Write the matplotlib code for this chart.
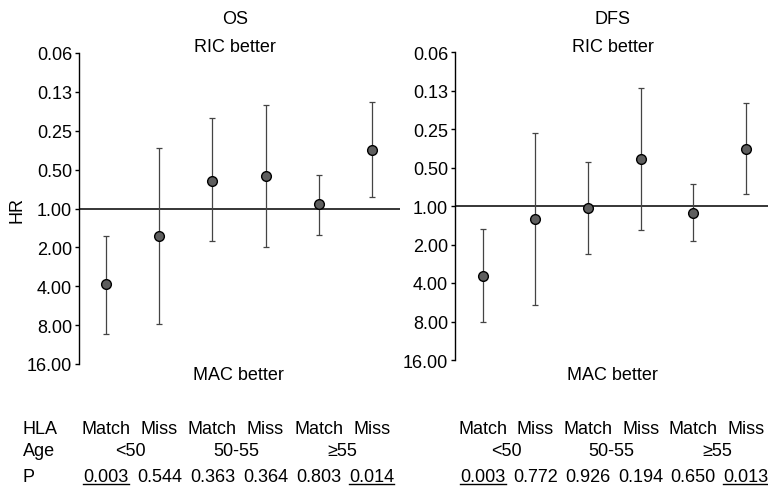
import matplotlib
matplotlib.use("Agg")
import matplotlib.pyplot as plt
import matplotlib.transforms as mtransforms
from matplotlib.lines import Line2D
from matplotlib.ticker import FixedLocator, FixedFormatter, NullLocator

plt.rcParams['font.family'] = ['Liberation Sans', 'DejaVu Sans']

# ---- data ----
hla = ["Match", "Miss", "Match", "Miss", "Match", "Miss"]
age_groups = ["<50", "50-55", "\u226555"]
tick_vals = [0.0625, 0.125, 0.25, 0.5, 1, 2, 4, 8, 16]
tick_labels = ["0.06", "0.13", "0.25", "0.50", "1.00", "2.00", "4.00", "8.00", "16.00"]

os_hr = [3.86, 1.62, 0.61, 0.56, 0.93, 0.35]
os_lo = [1.62, 0.34, 0.20, 0.157, 0.55, 0.15]
os_hi = [9.3, 7.85, 1.79, 1.98, 1.61, 0.81]
os_p = ["0.003", "0.544", "0.363", "0.364", "0.803", "0.014"]
os_sig = [True, False, False, False, False, True]

dfs_hr = [3.55, 1.26, 1.04, 0.43, 1.13, 0.36]
dfs_lo = [1.51, 0.27, 0.455, 0.12, 0.67, 0.157]
dfs_hi = [8.1, 5.9, 2.37, 1.53, 1.89, 0.81]
dfs_p = ["0.003", "0.772", "0.926", "0.194", "0.650", "0.013"]
dfs_sig = [True, False, False, False, False, True]

W, H = 768, 489
fig = plt.figure(figsize=(W / 100, H / 100), dpi=100)
fs = 13


def fx(px):
    return px / W


def fy(py):
    return 1 - py / H


def make_panel(left, right, top, bottom, xlim, hr, lo, hi):
    ax = fig.add_axes([fx(left), fy(bottom), fx(right - left), (bottom - top) / H])
    ax.set_yscale('log', base=2)
    ax.set_ylim(16, 0.0625)
    ax.set_xlim(*xlim)
    x = list(range(len(hr)))
    yerr = [[h - l for h, l in zip(hr, lo)], [u - h for h, u in zip(hr, hi)]]
    ax.axhline(1.0, color='black', lw=1.1, zorder=1)
    ax.errorbar(x, hr, yerr=yerr, fmt='none', ecolor='#444444', elinewidth=0.9,
                capsize=2, capthick=0.9, zorder=2)
    ax.plot(x, hr, 'o', ms=7, mfc='#5e5e5e', mec='black', mew=1.0, zorder=3)
    ax.yaxis.set_major_locator(FixedLocator(tick_vals))
    ax.yaxis.set_major_formatter(FixedFormatter(tick_labels))
    ax.yaxis.set_minor_locator(NullLocator())
    ax.xaxis.set_major_locator(NullLocator())
    ax.xaxis.set_minor_locator(NullLocator())
    for s in ['top', 'right', 'bottom']:
        ax.spines[s].set_visible(False)
    ax.spines['left'].set_linewidth(1.0)
    ax.tick_params(axis='y', length=3, width=1.0, pad=2, labelsize=fs)
    ax.patch.set_alpha(0)
    return ax


ax1 = make_panel(79, 400, 54, 365, (-0.51, 5.53), os_hr, os_lo, os_hi)
ax2 = make_panel(455, 768, 53, 361, (-0.53, 5.42), dfs_hr, dfs_lo, dfs_hi)

# titles and annotations
fig.text(fx(235), fy(20), "OS", ha='center', va='center', fontsize=fs)
fig.text(fx(235), fy(48), "RIC better", ha='center', va='center', fontsize=fs)
fig.text(fx(238), fy(376), "MAC better", ha='center', va='center', fontsize=fs)
fig.text(fx(613), fy(20), "DFS", ha='center', va='center', fontsize=fs)
fig.text(fx(613), fy(48), "RIC better", ha='center', va='center', fontsize=fs)
fig.text(fx(612), fy(376), "MAC better", ha='center', va='center', fontsize=fs)
fig.text(fx(17), fy(210), "HR", ha='center', va='center', rotation=90, fontsize=fs)

# table rows
fig.text(fx(23), fy(430), "HLA", ha='left', va='center', fontsize=fs)
fig.text(fx(23), fy(452), "Age", ha='left', va='center', fontsize=fs)
fig.text(fx(23), fy(478), "P", ha='left', va='center', fontsize=fs)

underlined = []
for ax, pvals, sig in [(ax1, os_p, os_sig), (ax2, dfs_p, dfs_sig)]:
    tr = mtransforms.blended_transform_factory(ax.transData, fig.transFigure)
    for i, lab in enumerate(hla):
        ax.text(i, fy(430), lab, ha='center', va='center', fontsize=fs,
                transform=tr, clip_on=False)
    for j, g in enumerate(age_groups):
        ax.text(2 * j + 0.45, fy(452), g, ha='center', va='center', fontsize=fs,
                transform=tr, clip_on=False)
    for i, (p, s) in enumerate(zip(pvals, sig)):
        t = ax.text(i, fy(478), p, ha='center', va='center', fontsize=fs,
                    transform=tr, clip_on=False)
        if s:
            underlined.append(t)

fig.canvas.draw()
renderer = fig.canvas.get_renderer()
for t in underlined:
    bb = t.get_window_extent(renderer)
    yline = bb.y0 + 1.5
    fig.add_artist(Line2D([bb.x0 / W, bb.x1 / W], [yline / H, yline / H],
                          transform=fig.transFigure, color='black', lw=1.0))

fig.savefig("out.png", dpi=100)
